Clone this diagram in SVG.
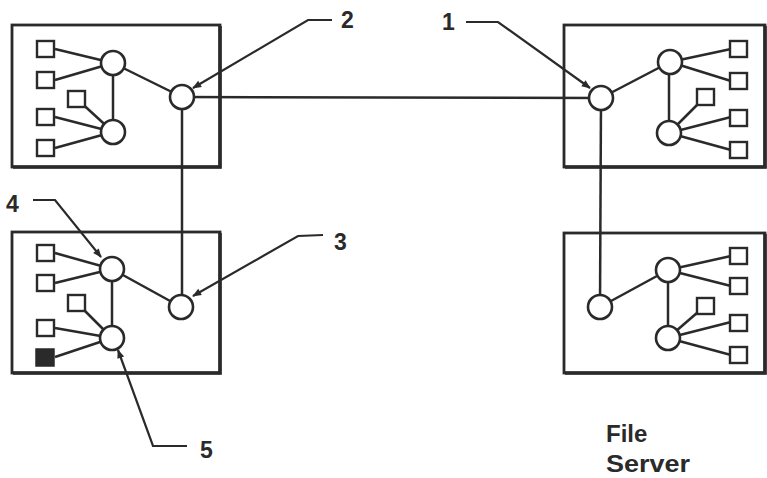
<svg xmlns="http://www.w3.org/2000/svg" width="767" height="478" viewBox="0 0 767 478">
<defs>
<style>
.box{fill:none;stroke:#2a2a2a;stroke-width:2.8}
.sh{fill:none;stroke:#2a2a2a;stroke-width:3.6}
.ln{fill:none;stroke:#2a2a2a;stroke-width:2.5}
.nd{fill:#fff;stroke:#2a2a2a;stroke-width:2.6}
.sq{fill:#fff;stroke:#2a2a2a;stroke-width:2.4}
.ld{fill:none;stroke:#2a2a2a;stroke-width:2.2}
.lb{font-family:"Liberation Sans",Arial,sans-serif;font-weight:bold;font-size:23px;fill:#2a2a2a}
.fs{font-family:"Liberation Sans",Arial,sans-serif;font-weight:bold;font-size:24px;fill:#2a2a2a}
</style>
<marker id="ah" viewBox="0 0 10 10" refX="9" refY="5" markerWidth="10" markerHeight="9" orient="auto" markerUnits="userSpaceOnUse">
<path d="M0,1 L10,5 L0,9 Z" fill="#2a2a2a"/>
</marker>
</defs>
<rect width="767" height="478" fill="#fff"/>

<g id="connectors">
<line class="ln" x1="182" y1="97" x2="601" y2="98"/>
<line class="ln" x1="182" y1="97" x2="182" y2="307"/>
<line class="ln" x1="601" y1="98" x2="600" y2="307"/>
</g>

<g id="node-tl">
<rect class="box" x="12" y="25" width="208" height="142"/>
<polyline class="sh" points="220,26 220,167 13,167"/>
<line class="ln" x1="55" y1="49" x2="113" y2="63"/>
<line class="ln" x1="55" y1="80" x2="113" y2="63"/>
<line class="ln" x1="77" y1="99" x2="113" y2="132"/>
<line class="ln" x1="55" y1="117" x2="113" y2="132"/>
<line class="ln" x1="55" y1="148" x2="113" y2="132"/>
<line class="ln" x1="113" y1="63" x2="113" y2="132"/>
<line class="ln" x1="113" y1="63" x2="182" y2="97"/>
<rect class="sq" x="37" y="41" width="17" height="16"/>
<rect class="sq" x="37" y="72" width="17" height="16"/>
<rect class="sq" x="68" y="91" width="17" height="16"/>
<rect class="sq" x="37" y="109" width="17" height="16"/>
<rect class="sq" x="37" y="140" width="17" height="16"/>
<circle class="nd" cx="113" cy="63" r="12"/>
<circle class="nd" cx="113" cy="132" r="12"/>
<circle class="nd" cx="182" cy="97" r="12"/>
</g>

<g id="node-bl">
<rect class="box" x="12" y="232" width="208" height="141"/>
<polyline class="sh" points="220,233 220,373 13,373"/>
<line class="ln" x1="55" y1="253" x2="112" y2="269"/>
<line class="ln" x1="55" y1="283" x2="112" y2="269"/>
<line class="ln" x1="77" y1="303" x2="112" y2="338"/>
<line class="ln" x1="55" y1="328" x2="112" y2="338"/>
<line class="ln" x1="55" y1="357" x2="112" y2="338"/>
<line class="ln" x1="112" y1="269" x2="112" y2="338"/>
<line class="ln" x1="112" y1="269" x2="181" y2="307"/>
<rect class="sq" x="37" y="245" width="17" height="16"/>
<rect class="sq" x="37" y="275" width="17" height="16"/>
<rect class="sq" x="68" y="295" width="17" height="16"/>
<rect class="sq" x="37" y="320" width="17" height="16"/>
<rect x="36" y="349" width="18" height="17" fill="#2a2a2a" stroke="#2a2a2a" stroke-width="1.5"/>
<circle class="nd" cx="112" cy="269" r="12"/>
<circle class="nd" cx="112" cy="338" r="12"/>
<circle class="nd" cx="181" cy="307" r="12"/>
</g>

<g id="node-tr">
<rect class="box" x="564" y="25" width="201" height="142"/>
<polyline class="sh" points="765,26 765,167 565,167"/>
<line class="ln" x1="670" y1="62" x2="731" y2="49"/>
<line class="ln" x1="670" y1="62" x2="731" y2="81"/>
<line class="ln" x1="669" y1="133" x2="705" y2="97"/>
<line class="ln" x1="669" y1="133" x2="731" y2="117"/>
<line class="ln" x1="669" y1="133" x2="731" y2="150"/>
<line class="ln" x1="669" y1="62" x2="669" y2="133"/>
<line class="ln" x1="601" y1="98" x2="670" y2="62"/>
<rect class="sq" x="730" y="41" width="17" height="16"/>
<rect class="sq" x="730" y="73" width="17" height="16"/>
<rect class="sq" x="697" y="89" width="17" height="16"/>
<rect class="sq" x="730" y="110" width="17" height="16"/>
<rect class="sq" x="730" y="142" width="17" height="16"/>
<circle class="nd" cx="670" cy="62" r="12"/>
<circle class="nd" cx="669" cy="133" r="12"/>
<circle class="nd" cx="601" cy="98" r="12"/>
</g>

<g id="node-br">
<rect class="box" x="564" y="233" width="201" height="140"/>
<polyline class="sh" points="765,234 765,373 565,373"/>
<line class="ln" x1="668" y1="270" x2="731" y2="256"/>
<line class="ln" x1="668" y1="270" x2="731" y2="286"/>
<line class="ln" x1="668" y1="338" x2="705" y2="306"/>
<line class="ln" x1="668" y1="338" x2="731" y2="322"/>
<line class="ln" x1="668" y1="338" x2="731" y2="355"/>
<line class="ln" x1="668" y1="270" x2="668" y2="338"/>
<line class="ln" x1="600" y1="307" x2="668" y2="270"/>
<rect class="sq" x="730" y="248" width="17" height="16"/>
<rect class="sq" x="730" y="278" width="17" height="16"/>
<rect class="sq" x="697" y="298" width="17" height="16"/>
<rect class="sq" x="730" y="315" width="17" height="16"/>
<rect class="sq" x="730" y="347" width="17" height="16"/>
<circle class="nd" cx="668" cy="270" r="12"/>
<circle class="nd" cx="668" cy="338" r="12"/>
<circle class="nd" cx="600" cy="307" r="12"/>
</g>

<g id="callouts">
<polyline class="ld" points="332,20 308,20 193,88" marker-end="url(#ah)"/>
<polyline class="ld" points="466,22 498,22 590,88" marker-end="url(#ah)"/>
<polyline class="ld" points="323,235 298,236 193,296" marker-end="url(#ah)"/>
<polyline class="ld" points="33,200 55,200 101,257" marker-end="url(#ah)"/>
<polyline class="ld" points="187,446 153,446 118,350" marker-end="url(#ah)"/>
<text class="lb" x="341" y="28">2</text>
<text class="lb" x="442" y="30">1</text>
<text class="lb" x="334" y="250">3</text>
<text class="lb" x="6" y="212">4</text>
<text class="lb" x="200" y="458">5</text>
<text class="fs" x="606" y="442">File</text>
<text class="fs" x="606" y="472" textLength="84" lengthAdjust="spacingAndGlyphs">Server</text>
</g>
</svg>
